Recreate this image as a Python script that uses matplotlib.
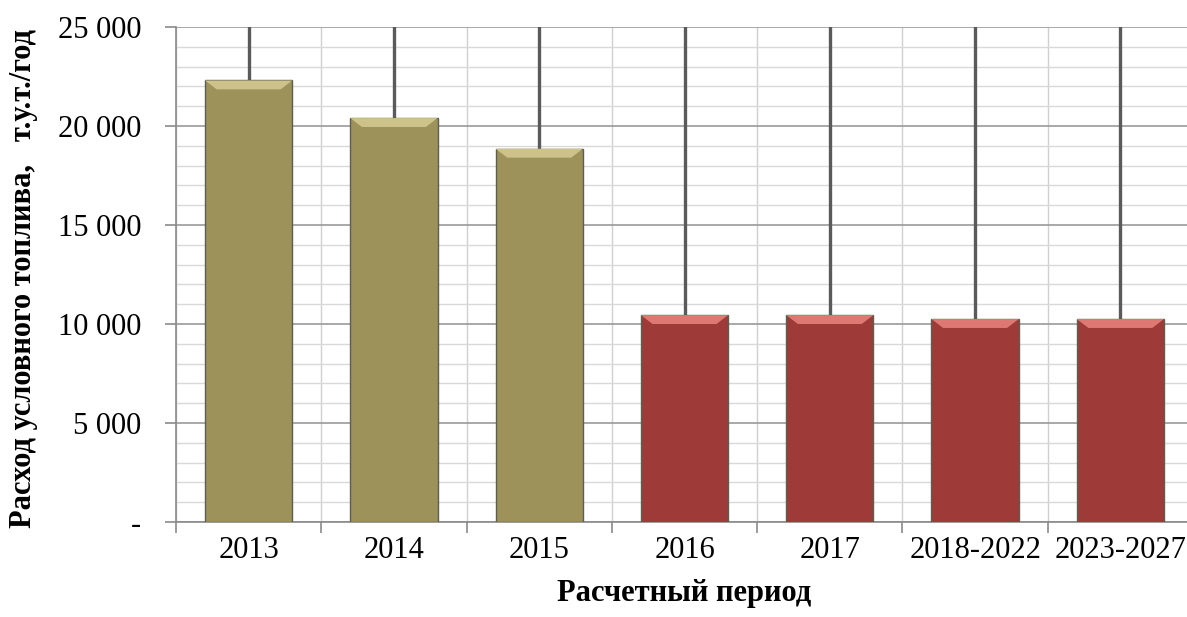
import numpy as np
import matplotlib.pyplot as plt
from matplotlib.ticker import FixedLocator, FuncFormatter
from matplotlib.patches import Polygon

# --- data ---
periods = ['2013', '2014', '2015', '2016', '2017', '2018-2022', '2023-2027']
fuel = [22300, 20400, 18850, 10450, 10450, 10250, 10250]
is_fact = [True, True, True, False, False, False, False]

OLIVE, OLIVE_HI = '#9c925a', '#cdc38a'
RED, RED_HI = '#9e3b39', '#dd7873'

plt.rcParams['font.family'] = ['Liberation Serif', 'DejaVu Serif']
FS = 22

fig = plt.figure(figsize=(11.87, 6.17), dpi=100)
ax = fig.add_axes([176 / 1187, 1 - 522 / 617, 1017 / 1187, 495 / 617])

x = np.arange(len(periods))
cols = [OLIVE if f else RED for f in is_fact]
his = [OLIVE_HI if f else RED_HI for f in is_fact]
W = 0.6

# whiskers going up past the top of the plot
ax.errorbar(x, fuel, yerr=[np.zeros(len(x)), np.full(len(x), 30000.0)],
            fmt='none', ecolor='#5a5a5a', elinewidth=2.4, capsize=0, zorder=2)

bars = ax.bar(x, fuel, width=W, color=cols, edgecolor='#5e5e50', linewidth=1.0, zorder=3)

# bevel highlight on top of each bar
for b, hc in zip(bars, his):
    x0, x1 = b.get_x(), b.get_x() + b.get_width()
    top = b.get_height()
    dy = 450
    dx = 0.08
    ax.add_patch(Polygon([[x0, top], [x1, top], [x1 - dx, top - dy], [x0 + dx, top - dy]],
                         closed=True, facecolor=hc, edgecolor='none', zorder=4))

ax.set_xlim(-0.5, len(periods) - 0.5)
ax.set_ylim(0, 25000)

# y ticks / grid
ax.yaxis.set_major_locator(FixedLocator(np.arange(0, 25001, 5000)))
ax.yaxis.set_minor_locator(FixedLocator(np.arange(0, 25001, 1000)))
ax.yaxis.set_major_formatter(FuncFormatter(
    lambda v, p: '-' if v == 0 else f'{int(v):,}'.replace(',', ' ')))
ax.grid(axis='y', which='major', color='#9a9a9a', linewidth=1.2, zorder=0)
ax.grid(axis='y', which='minor', color='#d9d9d9', linewidth=1.0, zorder=0)

# x ticks at category boundaries, labels at centres
ax.xaxis.set_major_locator(FixedLocator(np.arange(-0.5, len(periods), 1.0)))
ax.xaxis.set_minor_locator(FixedLocator(x))
ax.xaxis.set_major_formatter(FuncFormatter(lambda v, p: ''))
ax.set_xticks(x, periods, minor=True)
ax.grid(axis='x', which='major', color='#d0d0d0', linewidth=1.0, zorder=0)
ax.tick_params(axis='x', which='major', length=8, color='#8a8a8a', width=1.2)
ax.tick_params(axis='x', which='minor', length=0, labelsize=FS, pad=10)
ax.tick_params(axis='y', which='major', length=8, color='#8a8a8a', width=1.2,
               labelsize=FS, pad=17)
ax.tick_params(axis='y', which='minor', length=0)

for s in ['top', 'right']:
    ax.spines[s].set_visible(False)
for s in ['left', 'bottom']:
    ax.spines[s].set_color('#8a8a8a')
    ax.spines[s].set_linewidth(1.2)
ax.set_axisbelow(True)

ax.set_xlabel('Расчетный период', fontsize=FS, fontweight='bold', labelpad=10)
fig.text(24 / 1187, 1 - 278 / 617, 'Расход условного топлива,   т.у.т./год',
         rotation=90, ha='center', va='center', fontsize=FS, fontweight='bold')

fig.savefig('out.png', dpi=100)
